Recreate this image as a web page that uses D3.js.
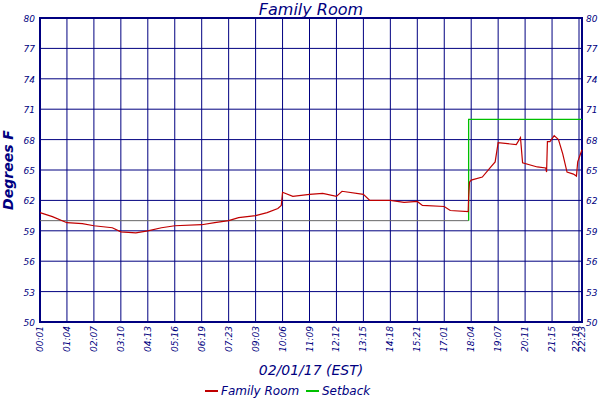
<!DOCTYPE html>
<html><head><meta charset="utf-8">
<script src="https://cdn.jsdelivr.net/npm/d3@7"></script>
<style>body{margin:0;background:#fff}text{font-family:"DejaVu Sans",sans-serif;fill:#000080}</style>
</head><body><div id="container"></div>
<script>
// tick labels along the time axis (minutes of the day)
const tickLabels = ["00:01","01:04","02:07","03:10","04:13","05:16","06:19","07:23","09:03","10:06","11:09","12:12","13:15","14:18","15:21","17:01","18:04","19:07","20:11","21:15","22:18","22:23"];
const yTicks = [50,53,56,59,62,65,68,71,74,77,80];

// Family Room temperature: [time, degrees F]
const roomTimes = ["00:01","00:30","01:04","01:40","02:07","02:50","03:10","03:45","04:13","04:45","05:16","06:19","06:50","07:23","08:00","09:03","09:30","09:55","10:03","10:06","10:30","11:09","11:40","12:12","12:25","13:15","13:30","14:18","14:50","15:21","15:40","17:01","17:15","17:57","17:58","18:00","18:04","18:30","18:50","19:00","19:07","19:50","20:00","20:05","20:40","21:00","21:02","21:04","21:10","21:20","21:30","21:40","21:50","22:05","22:12","22:15","22:20","22:23"];
const roomTemps = [60.8,60.4,59.8,59.7,59.5,59.3,58.9,58.8,59.0,59.3,59.5,59.6,59.8,60.0,60.3,60.5,60.8,61.2,61.5,62.8,62.4,62.6,62.7,62.4,62.9,62.6,62.0,62.0,61.8,61.9,61.5,61.4,61.0,60.9,62.3,63.8,64.0,64.3,65.3,65.8,67.7,67.5,68.2,65.7,65.3,65.2,64.8,67.8,67.8,68.4,68.0,66.6,64.8,64.6,64.4,65.8,66.5,67.0];

// Setback temperature
const setTimes = ["00:01","17:58","17:58","22:23"];
const setTemps = [60,60,70,70];

const W = 600, H = 400, m = {top: 18, left: 40, right: 18, bottom: 78};
const toMin = s => { const [h, mm] = s.split(":"); return +h * 60 + +mm; };

const tickX = tickLabels.map((t, i) => i < 20 ? m.left + 26.95 * i : (i === 21 ? W - m.right : 579));
const x = d3.scaleLinear().domain(tickLabels.map(toMin)).range(tickX);
const y = d3.scaleLinear().domain([50, 80]).range([H - m.bottom, m.top]);

const svg = d3.select("#container").append("svg").attr("width", W).attr("height", H);

// grid
svg.append("g").selectAll("line").data(yTicks).join("line")
  .attr("x1", m.left).attr("x2", W - m.right).attr("y1", d => y(d)).attr("y2", d => y(d))
  .attr("stroke", "#000080").attr("stroke-width", 1);
svg.append("g").selectAll("line").data(tickLabels).join("line")
  .attr("x1", d => x(toMin(d))).attr("x2", d => x(toMin(d)))
  .attr("y1", m.top).attr("y2", H - m.bottom)
  .attr("stroke", "#000080").attr("stroke-width", 1);
svg.append("rect").attr("x", m.left).attr("y", m.top)
  .attr("width", W - m.left - m.right).attr("height", H - m.top - m.bottom)
  .attr("fill", "none").attr("stroke", "#000080").attr("stroke-width", 2);

// y labels both sides
svg.append("g").selectAll("text").data(yTicks).join("text")
  .attr("x", m.left - 5).attr("y", d => y(d) + 4).attr("text-anchor", "end")
  .attr("font-size", 9).attr("font-style", "italic").text(d => d);
svg.append("g").selectAll("text").data(yTicks).join("text")
  .attr("x", W - m.right + 4).attr("y", d => y(d) + 4)
  .attr("font-size", 9).attr("font-style", "italic").text(d => d);

// x labels rotated
svg.append("g").selectAll("text").data(tickLabels).join("text")
  .attr("transform", (d, i) => `translate(${x(toMin(d)) + 3 + (i === 20 ? -3 : 0)},${H - m.bottom + 4}) rotate(-90)`)
  .attr("text-anchor", "end").attr("font-size", 9).attr("font-style", "italic").text(d => d);

// setback
const setPts = setTimes.map((t, i) => [x(toMin(t)), y(setTemps[i])]);
svg.append("path").attr("d", d3.line()(setPts.slice(0, 2))).attr("fill", "none").attr("stroke", "#666").attr("stroke-width", 1);
svg.append("path").attr("d", d3.line()(setPts.slice(1))).attr("fill", "none").attr("stroke", "#00c000").attr("stroke-width", 1.3);

// room temperature
svg.append("path")
  .attr("d", d3.line()(roomTimes.map((t, i) => [x(toMin(t)), y(roomTemps[i])])))
  .attr("fill", "none").attr("stroke", "#c00000").attr("stroke-width", 1.2);

// titles
const serif = "'DejaVu Serif',serif";
svg.append("text").attr("x", (m.left + W - m.right) / 2).attr("y", 15).attr("text-anchor", "middle")
  .attr("font-size", 16).attr("font-style", "italic").attr("font-family", serif).text("Family Room");
svg.append("text").attr("x", (m.left + W - m.right) / 2).attr("y", 375).attr("text-anchor", "middle")
  .attr("font-size", 14).attr("font-style", "italic").attr("font-family", serif).text("02/01/17 (EST)");
svg.append("text").attr("transform", `translate(13,${(m.top + H - m.bottom) / 2}) rotate(-90)`)
  .attr("text-anchor", "middle").attr("font-size", 14).attr("font-style", "italic").attr("font-weight", "bold")
  .attr("font-family", serif).text("Degrees F");

// legend
const legend = [["Family Room", "#c00000", 205], ["Setback", "#00c000", 306]];
legend.forEach(([name, col, lx]) => {
  svg.append("line").attr("x1", lx).attr("x2", lx + 13).attr("y1", 391).attr("y2", 391).attr("stroke", col).attr("stroke-width", 2);
  svg.append("text").attr("x", lx + 16).attr("y", 395).attr("font-size", 12).attr("font-style", "italic")
    .attr("font-family", serif).text(name);
});
</script></body></html>
